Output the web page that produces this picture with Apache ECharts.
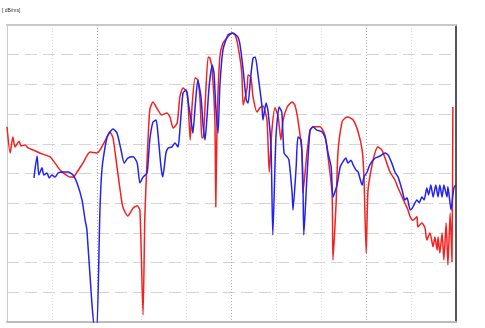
<!DOCTYPE html>
<html>
<head>
<meta charset="UTF-8">
<title>response</title>
<script src="https://cdn.jsdelivr.net/npm/echarts@6/dist/echarts.min.js"></script>
<style>
  html, body { margin: 0; padding: 0; background: #fff; }
  #chart { width: 485px; height: 328px; }
</style>
</head>
<body>
<div id="chart"></div>
<script>
// x position (0-100 across the plot), y level (0-100 bottom to top)
const redX = [0, 0.7, 1.3, 1.8, 2.7, 3.1, 4.0, 4.7, 5.8, 7.3, 9.6, 10.7, 11.8, 12.9, 14.0, 14.7, 15.6, 16.9, 18.5, 20.0,
  20.7, 22.3, 22.9, 23.6, 24.5, 25.2, 25.8, 26.9, 28.1, 29.0, 29.6, 30.3, 30.7, 31.2, 31.8, 32.5, 33.6, 34.5, 35.6, 36.3,
  37.0, 37.9, 38.5, 39.2, 40.1, 40.3, 40.8, 41.2, 41.9, 42.5, 43.0, 43.4, 43.7, 44.1, 44.8, 45.2, 45.7, 46.3, 46.5, 46.8,
  47.4, 48.1, 49.2, 50.1, 50.8, 51.4, 52.3, 52.6, 53.5, 53.7, 54.3, 54.8, 55.7, 56.3, 57.0, 57.9, 58.4, 59.0, 59.7, 60.4,
  61.0, 61.5, 62.4, 63.5, 64.1, 64.8, 65.7, 65.9, 66.8, 67.5, 68.2, 69.7, 70.8, 71.5, 72.4, 72.6, 73.3, 73.7, 74.6, 75.3,
  75.9, 77.1, 78.2, 79.1, 79.5, 80.0, 80.4, 81.3, 82.0, 82.6, 83.5, 84.2, 85.3, 86.4, 87.1, 88.0, 88.6, 89.3, 89.8, 90.4,
  91.3, 91.5, 92.4, 93.1, 93.5, 94.2, 94.9, 95.3, 95.8, 96.0, 96.4, 96.9, 97.3, 97.8, 98.2, 98.7, 99.1, 99.3];
const redY = [65.7, 56.9, 62.3, 58.9, 60.9, 59.3, 59.6, 58.6, 57.9, 56.9, 55.6, 53.5, 51.2, 49.8, 48.8, 48.8, 50.5, 53.5, 57.2, 56.9,
  57.9, 62.3, 64.0, 62.0, 52.2, 44.4, 38.7, 35.7, 38.4, 39.1, 37.7, 2.4, 35.4, 54.5, 71.4, 74.1, 71.4, 69.7, 70.4, 69.0,
  65.3, 67.0, 75.8, 78.8, 77.4, 74.7, 61.3, 72.4, 82.2, 81.5, 74.7, 62.0, 62.0, 72.4, 89.2, 88.9, 84.8, 68.0, 38.7, 68.0,
  89.2, 93.9, 96.0, 97.3, 96.6, 93.3, 83.8, 73.1, 79.1, 83.2, 82.5, 75.8, 70.7, 72.1, 72.7, 68.0, 50.5, 64.6, 72.1, 69.0,
  61.3, 68.0, 72.4, 74.1, 73.1, 68.0, 56.9, 43.4, 56.9, 64.6, 65.7, 65.7, 63.0, 55.6, 43.4, 20.9, 40.1, 56.9, 67.3, 68.7,
  69.0, 68.0, 64.0, 57.9, 48.8, 23.2, 44.4, 52.9, 57.2, 58.9, 57.9, 55.2, 50.5, 47.8, 45.1, 42.1, 40.1, 37.7, 35.4, 34.3,
  35.4, 32.0, 33.3, 31.6, 27.6, 30.0, 25.3, 28.6, 24.2, 28.6, 23.2, 30.0, 20.9, 33.3, 19.2, 36.7, 20.2, 72.4];

const blueX = [6.0, 6.7, 7.1, 7.8, 8.2, 8.9, 9.4, 10.0, 10.7, 11.4, 12.5, 13.6, 14.7, 15.6, 16.7, 17.4, 17.8, 18.9, 19.6, 20.0,
  20.7, 21.2, 22.3, 23.6, 24.5, 25.4, 26.1, 26.9, 28.1, 29.0, 29.6, 30.3, 31.2, 31.8, 32.5, 33.2, 33.6, 34.3, 34.7, 35.4,
  35.9, 36.7, 37.4, 38.1, 38.5, 39.2, 39.9, 40.3, 41.2, 41.4, 41.9, 42.5, 43.2, 43.7, 44.1, 44.5, 45.0, 45.7, 46.1, 46.5,
  47.0, 47.4, 48.1, 49.2, 50.3, 51.4, 51.9, 52.6, 53.3, 53.7, 54.2, 54.8, 55.3, 55.9, 56.8, 57.0, 57.7, 58.1, 58.8, 59.2,
  59.9, 60.6, 61.2, 61.7, 62.4, 62.8, 63.5, 63.7, 64.4, 64.8, 65.5, 65.9, 66.1, 66.8, 67.5, 68.2, 69.0, 70.2, 71.0, 71.5,
  72.2, 72.6, 73.5, 74.2, 74.8, 75.5, 75.9, 76.6, 77.1, 77.7, 78.2, 79.1, 79.5, 80.2, 80.8, 82.0, 83.1, 84.2, 84.9, 85.7,
  86.4, 87.1, 88.0, 88.6, 89.1, 89.8, 90.4, 91.3, 91.8, 92.4, 92.9, 93.5, 93.9, 94.4, 94.9, 95.5, 96.0, 96.4, 96.9, 97.3,
  98.0, 98.2, 98.9, 99.3, 99.6, 100];
const blueY = [48.5, 55.9, 49.5, 51.9, 49.5, 50.2, 48.5, 49.5, 48.8, 50.2, 50.5, 50.5, 49.5, 46.8, 41.1, 34.3, 31.0, 6.4, -3, -3,
  37.7, 52.2, 62.3, 65.0, 63.6, 57.9, 53.5, 55.2, 55.6, 53.5, 46.8, 48.8, 50.2, 61.3, 67.3, 68.0, 63.6, 52.2, 48.8, 56.9,
  58.6, 58.9, 60.3, 58.9, 64.6, 77.1, 78.1, 74.7, 65.7, 63.6, 72.4, 81.5, 75.8, 65.7, 61.3, 68.0, 79.1, 86.5, 83.8, 72.4,
  63.6, 79.1, 91.6, 96.6, 97.3, 96.0, 93.3, 84.8, 74.7, 73.7, 81.5, 88.9, 89.2, 83.2, 72.4, 68.0, 73.7, 71.4, 58.9, 29.3,
  62.3, 72.4, 70.7, 56.9, 55.6, 54.5, 43.4, 37.7, 52.2, 62.3, 61.3, 47.8, 29.3, 48.8, 64.6, 65.7, 64.6, 64.0, 61.3, 56.9,
  52.2, 42.1, 46.1, 52.2, 53.9, 55.2, 53.5, 54.5, 52.9, 51.2, 50.5, 46.1, 48.8, 50.5, 52.9, 55.2, 55.9, 56.9, 56.2, 53.5,
  50.5, 48.8, 44.4, 41.1, 41.8, 37.7, 38.7, 41.1, 40.1, 42.1, 41.1, 45.1, 42.8, 46.1, 42.1, 46.1, 42.1, 46.1, 42.1, 46.1,
  42.1, 45.5, 37.7, 42.8, 45.5, 46.1];

const pairs = (xs, ys) => xs.map((x, i) => [x, ys[i]]);

const chart = echarts.init(document.getElementById('chart'));
chart.setOption({
  animation: false,
  graphic: [{
    type: 'text', left: 2, top: 8,
    style: { text: '[ dB/ms]', font: '5px sans-serif', fill: '#333' }
  }],
  grid: { left: 7, right: 29, top: 25, bottom: 6 },
  xAxis: [{
    type: 'value', min: 0, max: 100, interval: 10, position: 'bottom',
    axisLine: { onZero: false, lineStyle: { color: '#bbb', width: 2 } },
    axisTick: { show: false }, axisLabel: { show: false },
    splitLine: { lineStyle: { color: ['#ddd', '#ddd', '#aaa'], type: [1, 2], width: 1 } }
  }, {
    type: 'value', min: 0, max: 100, position: 'top',
    axisLine: { onZero: false, lineStyle: { color: '#c8c8c8', width: 2 } },
    axisTick: { show: false }, axisLabel: { show: false }, splitLine: { show: false }
  }],
  yAxis: [{
    type: 'value', min: 0, max: 100, interval: 10, position: 'left',
    axisLine: { show: true, onZero: false, lineStyle: { color: '#ccc', width: 1 } },
    axisTick: { show: false }, axisLabel: { show: false },
    splitLine: { lineStyle: { color: '#d4d4d4', type: [12, 6], width: 1 } }
  }, {
    type: 'value', min: 0, max: 100, position: 'right',
    axisLine: { show: true, onZero: false, lineStyle: { color: '#555', width: 2 } },
    axisTick: { show: false }, axisLabel: { show: false }, splitLine: { show: false }
  }],
  series: [{
    type: 'line', data: pairs(redX, redY), showSymbol: false, smooth: 0.2,
    lineStyle: { color: '#f52020', width: 1.5 }
  }, {
    type: 'line', data: pairs(blueX, blueY), showSymbol: false, smooth: 0.2,
    lineStyle: { color: '#2222f5', width: 1.5 }
  }]
});
</script>
</body>
</html>
